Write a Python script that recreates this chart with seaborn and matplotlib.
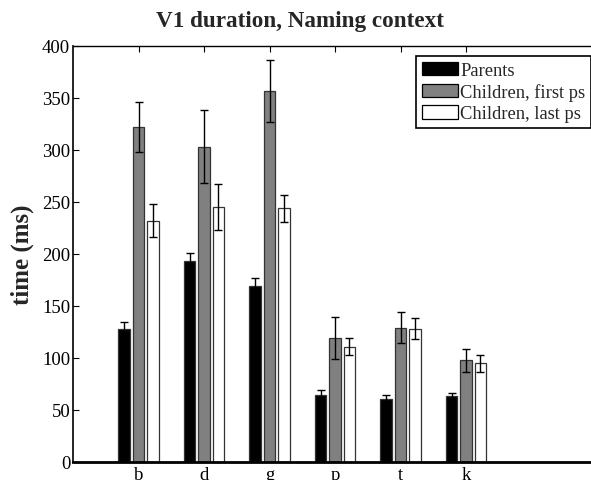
import numpy as np
import pandas as pd
import matplotlib
matplotlib.use("Agg")
import matplotlib.pyplot as plt
import seaborn as sns
from matplotlib.patches import Patch

categories = ["b", "d", "g", "p", "t", "k"]
groups = ["Parents", "Children, first ps", "Children, last ps"]
parents = [128, 193, 169, 64, 61, 63]
parents_err = [7, 8, 8, 5, 3, 3]
child_first = [322, 303, 357, 119, 129, 98]
child_first_err = [24, 35, 30, 20, 15, 11]
child_last = [232, 245, 244, 111, 128, 95]
child_last_err = [16, 22, 13, 8, 10, 8]
colors = ["#000000", "#808080", "#ffffff"]

values = [parents, child_first, child_last]
errors = [parents_err, child_first_err, child_last_err]

rows = []
for g, vals, errs in zip(groups, values, errors):
    for c, v, e in zip(categories, vals, errs):
        rows.append({"cat": c, "group": g, "value": v, "err": e})
df = pd.DataFrame(rows)

sns.set_style("white")
plt.rcParams["font.family"] = ["Liberation Serif", "DejaVu Serif"]

fig = plt.figure(figsize=(5.91, 4.81), dpi=100)
ax = fig.add_axes([73 / 591, 18 / 481, 524 / 591, 416 / 481])

sns.barplot(data=df, x="cat", y="value", hue="group", order=categories,
            hue_order=groups, palette=colors, errorbar=None, width=0.66,
            gap=0.18, edgecolor="#333333", linewidth=0.9, ax=ax, legend=False,
            saturation=1)

# error bars from bar positions
patches = [p for p in ax.patches if p.get_height() > 0]
for p in patches:
    xc = p.get_x() + p.get_width() / 2
    h = p.get_height()
    idx = int(round(xc))
    gi = int(round((xc - idx) / 0.22)) + 1
    e = errors[gi][idx]
    ax.errorbar(xc, h, yerr=e, color="black", capsize=3, elinewidth=1.0,
                capthick=1.0, fmt="none", zorder=5)

ax.set_xlim(-1, 7)
ax.set_ylim(0, 400)
ax.set_yticks(np.arange(0, 401, 50))
ax.set_xlabel("")
ax.set_ylabel("time (ms)", fontsize=18, fontweight="bold")
ax.yaxis.set_label_coords(-0.074, 0.5)
ax.tick_params(axis="both", direction="in", length=4, labelsize=13.5,
               width=0.8, colors="black")
ax.tick_params(axis="x", top=True, bottom=True, pad=3)
ax.tick_params(axis="y", left=True, pad=2)

for s in ["top", "left", "bottom"]:
    ax.spines[s].set_visible(True)
    ax.spines[s].set_color("black")
ax.spines["top"].set_linewidth(1.0)
ax.spines["left"].set_linewidth(1.2)
ax.spines["bottom"].set_linewidth(2.0)
ax.spines["right"].set_visible(False)

fig.text(300 / 591, 1 - 22 / 481, "V1 duration, Naming context", ha="center",
         va="center", fontsize=16.7, fontweight="bold")

handles = [Patch(facecolor=c, edgecolor="black", linewidth=0.9) for c in colors]
leg = fig.legend(handles, groups, loc="upper left",
                 bbox_to_anchor=(416 / 591, 1 - 57 / 481), fontsize=13.3,
                 frameon=True, fancybox=False, handlelength=1.95,
                 handleheight=0.75, handletextpad=0.15, borderpad=0.3,
                 labelspacing=0.23, borderaxespad=0)
leg.get_frame().set_edgecolor("black")
leg.get_frame().set_linewidth(1.2)
leg.get_frame().set_alpha(1)

fig.savefig("out.png", dpi=100)
